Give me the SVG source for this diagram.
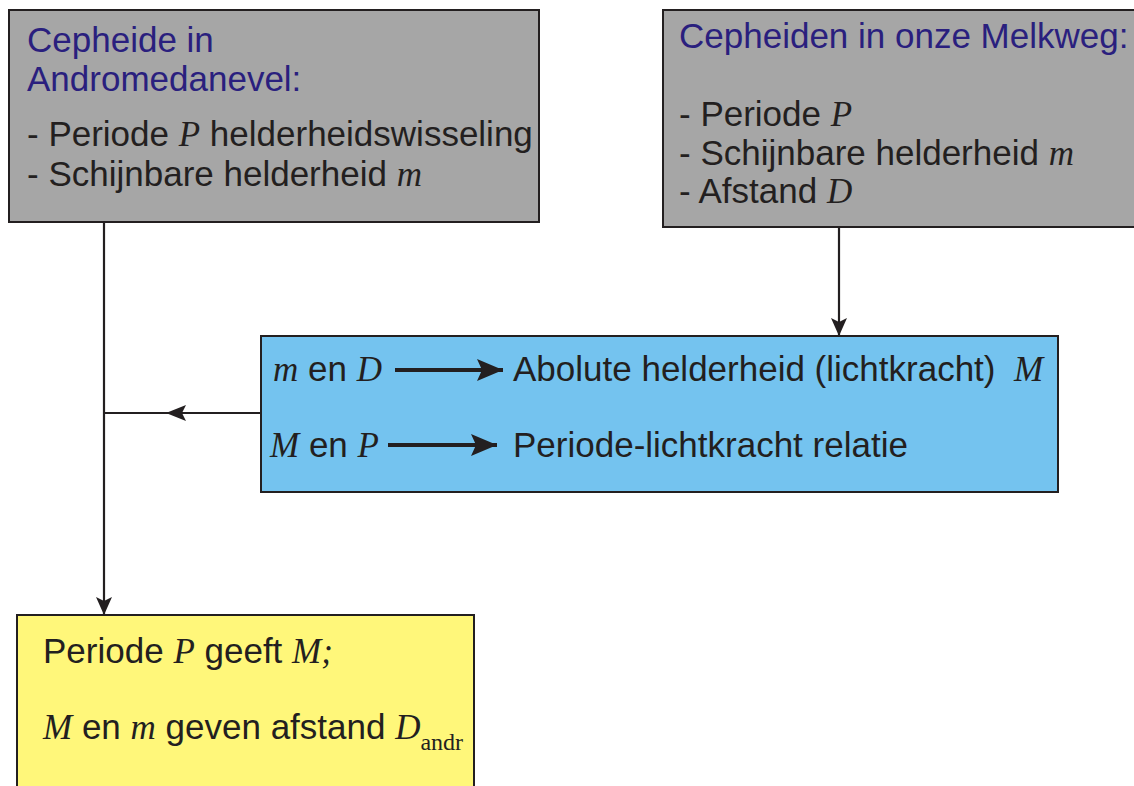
<svg xmlns="http://www.w3.org/2000/svg" width="1134" height="786" viewBox="0 0 1134 786">
<style>
.box{stroke:#231f20;stroke-width:2}
.gray{fill:#a6a6a6}
.blue{fill:#74c3ef}
.yel{fill:#fff77a}
text{font-family:"Liberation Sans",Arial,sans-serif;font-size:35px;fill:#231f20}
.title{fill:#2a1f7e}
.v{font-family:"Liberation Serif","Times New Roman",serif;font-style:italic}
.sub{font-family:"Liberation Serif","Times New Roman",serif;font-size:24px}
.line{stroke:#231f20;stroke-width:2.2;fill:none}
.thick{stroke:#231f20;stroke-width:4;fill:none}
</style>
<defs>
<marker id="ah" markerWidth="18" markerHeight="16" refX="18" refY="8" orient="auto" markerUnits="userSpaceOnUse">
<path d="M0,0 L18,8 L0,16 L4,8 Z" fill="#231f20"/>
</marker>
<marker id="ahb" markerWidth="26" markerHeight="22" refX="26" refY="11" orient="auto" markerUnits="userSpaceOnUse">
<path d="M0,0 L26,11 L0,22 L5,11 Z" fill="#231f20"/>
</marker>
</defs>
<rect width="1134" height="786" fill="#fff"/>
<g id="connectors">
<line class="line" x1="104" y1="222" x2="104" y2="615" marker-end="url(#ah)"/>
<line class="line" x1="261" y1="413" x2="104" y2="413"/>
<path d="M166,413 L186,405 L182,413 L186,421 Z" fill="#231f20"/>
<line class="line" x1="839" y1="227" x2="839" y2="336" marker-end="url(#ah)"/>
</g>
<g id="node-andromeda">
<rect class="box gray" x="9" y="10" width="530" height="212"/>
<text class="title" x="27" y="52">Cepheide in</text>
<text class="title" x="27" y="91">Andromedanevel:</text>
<text x="27" y="146">- Periode <tspan class="v">P</tspan> helderheidswisseling</text>
<text x="27" y="186">- Schijnbare helderheid <tspan class="v">m</tspan></text>
</g>
<g id="node-melkweg">
<rect class="box gray" x="663" y="10" width="480" height="217"/>
<text class="title" x="679" y="48">Cepheiden in onze Melkweg:</text>
<text x="679" y="126">- Periode <tspan class="v">P</tspan></text>
<text x="679" y="165">- Schijnbare helderheid <tspan class="v">m</tspan></text>
<text x="679" y="203">- Afstand <tspan class="v">D</tspan></text>
</g>
<g id="node-relatie">
<rect class="box blue" x="261" y="336" width="797" height="156"/>
<text x="273" y="381"><tspan class="v">m</tspan> en <tspan class="v">D</tspan></text>
<line class="thick" x1="395" y1="370" x2="503" y2="370" marker-end="url(#ahb)"/>
<text x="513" y="381">Abolute helderheid (lichtkracht)  <tspan class="v" x="1014">M</tspan></text>
<text x="270" y="457"><tspan class="v">M</tspan> en <tspan class="v">P</tspan></text>
<line class="thick" x1="388" y1="445" x2="497" y2="445" marker-end="url(#ahb)"/>
<text x="513" y="457">Periode-lichtkracht relatie</text>
</g>
<g id="node-result">
<rect class="box yel" x="17" y="615" width="457" height="180"/>
<text x="43" y="663">Periode <tspan class="v">P</tspan> geeft <tspan class="v">M;</tspan></text>
<text x="43" y="739"><tspan class="v">M</tspan> en <tspan class="v">m</tspan> geven afstand <tspan class="v">D</tspan><tspan class="sub" dy="11">andr</tspan></text>
</g>
</svg>
